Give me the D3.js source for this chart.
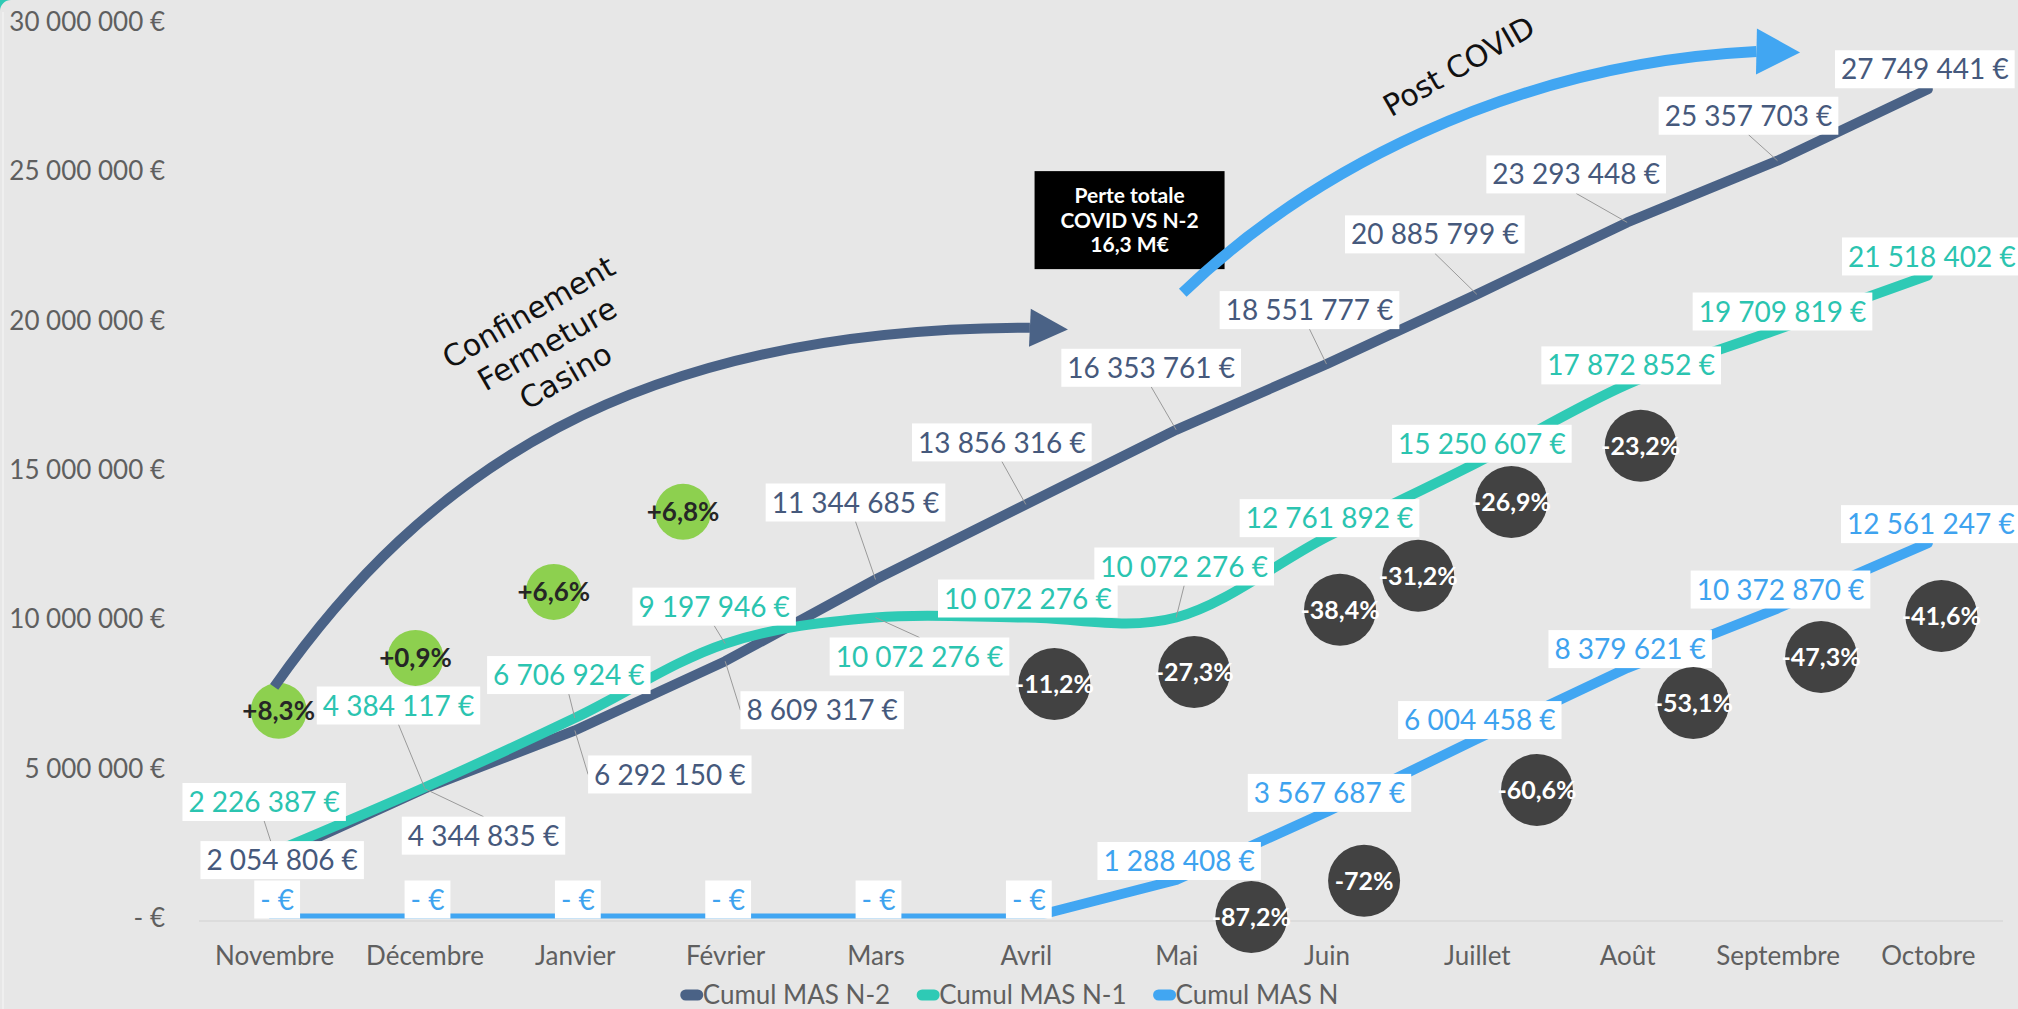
<!DOCTYPE html>
<html>
<head>
<meta charset="utf-8">
<script src="https://cdn.jsdelivr.net/npm/d3@7"></script>
<style>
html, body { margin: 0; padding: 0; background: #e7e7e7; overflow: hidden; }
svg { display: block; }
</style>
</head>
<body>
<div id="chart"></div>
<script>
// --- données ---
const months = ['Novembre', 'Décembre', 'Janvier', 'Février', 'Mars', 'Avril', 'Mai', 'Juin', 'Juillet', 'Août', 'Septembre', 'Octobre'];
const cumulN2 = [2054806, 4344835, 6292150, 8609317, 11344685, 13856316, 16353761, 18551777, 20885799, 23293448, 25357703, 27749441];
const cumulN1 = [2226387, 4384117, 6706924, 9197946, 10072276, 10072276, 10072276, 12761892, 15250607, 17872852, 19709819, 21518402];
const cumulN = [0, 0, 0, 0, 0, 0, 1288408, 3567687, 6004458, 8379621, 10372870, 12561247];
const yTicks = [0, 5000000, 10000000, 15000000, 20000000, 25000000, 30000000];
const seriesNames = ['Cumul MAS N-2', 'Cumul MAS N-1', 'Cumul MAS N'];

// bulles d'évolution (position : mois fractionnaire, valeur en €)
const gainText = ['+8,3%', '+0,9%', '+6,6%', '+6,8%'];
const gainMonth = [0.03, 0.94, 1.86, 2.72];
const gainValue = [6950000, 8720000, 10930000, 13610000];
const lossText = ['-11,2%', '-27,3%', '-87,2%', '-38,4%', '-72%', '-31,2%', '-26,9%', '-60,6%', '-23,2%', '-53,1%', '-47,3%', '-41,6%'];
const lossMonth = [5.19, 6.12, 6.50, 7.09, 7.25, 7.61, 8.23, 8.40, 9.09, 9.44, 10.29, 11.09];
const lossValue = [7850000, 8250000, 50000, 10330000, 1260000, 11470000, 13940000, 4300000, 15820000, 7210000, 8750000, 10120000];

// annotations : flèches en courbe de Bézier (mois fractionnaire, valeur en €)
const confinementText = ['Confinement', 'Fermeture', 'Casino'];
const confinementArrow = [[0.0, 7750000], [0.994, 14870000], [2.367, 19770000], [5.027, 19770000]];
const confinementTip = [5.28, 19710000];
const postCovidArrow = [[6.044, 20940000], [6.858, 24870000], [8.198, 28590000], [9.86, 29010000]];
const postCovidTip = [10.15, 28980000];
const perteText = ['Perte totale', 'COVID VS N-2', '16,3 M€'];

// décalage des étiquettes (px) par rapport au point
const shiftN2 = [[8, 3], [59, 47], [95, 44], [97, 49], [-20, -77], [-24, -62], [-25, -62], [-17, -54], [-42, -60], [-51, -48], [-29, -45], [-3, -20]];
const shiftN1 = [[-10, -50], [-26, -82], [-6, -43], [-11, -37], [44, 39], [2, -19], [8, -51], [3, -19], [5, -19], [4, -19], [5, -18], [4, -19]];

// --- mise en page ---
const width = 2018, height = 1009;
const colors = ['#4a6286', '#2ecab5', '#41a6f2'];
const textColors = ['#46597c', '#2bc4b0', '#3ea3ef'];
const font = 'Lato, "Open Sans", sans-serif';

const groupFmt = d3.formatLocale({decimal: ',', thousands: ' ', grouping: [3], currency: ['', ' €']}).format(',.0f');
const fmtEuro = v => v === 0 ? '- €' : groupFmt(v) + ' €';

const svg = d3.select('#chart')
    .append('svg')
    .attr('width', width)
    .attr('height', height);

svg.append('rect')
    .attr('width', width)
    .attr('height', height)
    .attr('fill', '#e7e7e7');

// coin et bord gauche
svg.append('path')
    .attr('d', 'M0,0 L11,0 A11,11 0 0 0 0,11 Z')
    .attr('fill', '#2ecab5');
svg.append('line')
    .attr('x1', 3).attr('x2', 3)
    .attr('y1', 12).attr('y2', height)
    .style('stroke', '#efefef')
    .style('stroke-width', 2);

const x = d3.scalePoint()
    .domain(months)
    .range([199, 2003])
    .padding(0.5);

const xi = d3.scaleLinear()
    .domain([0, months.length - 1])
    .range([x(months[0]), x(months[months.length - 1])]);

const y = d3.scaleLinear()
    .domain([0, 30000000])
    .range([918.5, 22]);

// axes
const yAxis = svg.append('g')
    .attr('transform', 'translate(199,0)')
    .call(d3.axisLeft(y).tickValues(yTicks).tickFormat(fmtEuro).tickSize(0).tickPadding(34));
yAxis.select('.domain').remove();
yAxis.selectAll('text')
    .attr('font-family', font)
    .attr('font-size', '26px')
    .attr('fill', '#5f5f5f');

const xAxis = svg.append('g')
    .attr('transform', 'translate(0,' + (y(0) + 2.5) + ')')
    .call(d3.axisBottom(x).tickSize(0).tickPadding(26));
xAxis.select('.domain')
    .attr('d', 'M199,0H2003')
    .style('stroke', '#d8d8d8')
    .style('stroke-width', 1.5);
xAxis.selectAll('text')
    .attr('font-family', font)
    .attr('font-size', '26px')
    .attr('fill', '#5f5f5f');

// courbes
svg.append('clipPath')
    .attr('id', 'plot')
    .append('rect')
    .attr('x', 199).attr('y', 22)
    .attr('width', 1804).attr('height', y(0) - 22);

const series = [cumulN2, cumulN1, cumulN];
const curves = [d3.curveLinear, d3.curveCardinal.tension(0), d3.curveLinear];

series.forEach((values, s) => {
    svg.append('path')
        .datum(values)
        .attr('clip-path', 'url(#plot)')
        .attr('fill', 'none')
        .attr('stroke', colors[s])
        .attr('stroke-width', 10)
        .attr('stroke-linecap', 'round')
        .attr('stroke-linejoin', 'round')
        .attr('d', d3.line()
            .x((d, i) => x(months[i]))
            .y(d => y(d))
            .curve(curves[s]));
});

// étiquettes de données avec traits de rappel
const leaders = svg.append('g');
const labels = svg.append('g');

function drawLabels(values, shifts, s){
    values.forEach((v, i) => {
        const px = x(months[i]),
            py = y(v),
            sh = shifts ? shifts[i] : [3, -19],
            cx = px + sh[0],
            cy = py + sh[1];

        const t = labels.append('text')
            .text(fmtEuro(v))
            .attr('x', cx)
            .attr('y', cy)
            .attr('dy', '0.36em')
            .attr('text-anchor', 'middle')
            .attr('font-family', font)
            .attr('font-size', '28px')
            .attr('fill', textColors[s]);

        const w = t.node().getComputedTextLength() + 12,
            h = 38,
            x0 = cx - w / 2, x1 = cx + w / 2,
            y0 = cy - h / 2, y1 = cy + h / 2;

        labels.insert('rect', () => t.node())
            .attr('x', x0).attr('y', y0)
            .attr('width', w).attr('height', h)
            .attr('fill', '#ffffff');

        if (px >= x0 && px <= x1 && py >= y0 && py <= y1) return;
        let ax, ay;
        if (px >= x0 && px <= x1){
            ax = cx;
            ay = py > cy ? y1 : y0;
        } else {
            ax = px < x0 ? x0 : x1;
            ay = cy;
        }
        if (Math.hypot(px - ax, py - ay) < 8) return;
        leaders.append('line')
            .attr('x1', ax).attr('y1', ay)
            .attr('x2', px).attr('y2', py)
            .style('stroke', '#9a9a9a')
            .style('stroke-width', 1);
    });
}

drawLabels(cumulN2, shiftN2, 0);
drawLabels(cumulN1, shiftN1, 1);
drawLabels(cumulN, null, 2);

// bulles
function drawBubbles(texts, pos, vals, r, fill, ink, size){
    const g = svg.append('g')
        .selectAll('g')
        .data(texts)
        .enter()
        .append('g')
        .attr('transform', (d, i) => 'translate(' + xi(pos[i]) + ',' + y(vals[i]) + ')');
    g.append('circle')
        .attr('r', r)
        .attr('fill', fill);
    g.append('text')
        .text(d => d)
        .attr('dy', '0.36em')
        .attr('text-anchor', 'middle')
        .attr('font-family', font)
        .attr('font-weight', 'bold')
        .attr('font-size', size)
        .attr('fill', ink);
}

drawBubbles(gainText, gainMonth, gainValue, 28, '#8dd04f', '#262626', '26px');
drawBubbles(lossText, lossMonth, lossValue, 36, '#424242', '#ffffff', '25px');

// annotations
const toPx = p => [xi(p[0]), y(p[1])];

function arrowHead(base, tip, half){
    const dx = tip[0] - base[0], dy = tip[1] - base[1],
        len = Math.hypot(dx, dy),
        nx = -dy / len * half, ny = dx / len * half;
    return 'M' + (base[0] + nx) + ',' + (base[1] + ny) +
        'L' + tip[0] + ',' + tip[1] +
        'L' + (base[0] - nx) + ',' + (base[1] - ny) + 'Z';
}

function drawArrow(ctrl, tip, color, stroke, half){
    const p = ctrl.map(toPx),
        path = d3.path();
    path.moveTo(p[0][0], p[0][1]);
    path.bezierCurveTo(p[1][0], p[1][1], p[2][0], p[2][1], p[3][0], p[3][1]);
    svg.append('path')
        .attr('d', path.toString())
        .attr('fill', 'none')
        .attr('stroke', color)
        .attr('stroke-width', stroke);
    svg.append('path')
        .attr('d', arrowHead(p[3], toPx(tip), half))
        .attr('fill', color);
}

drawArrow(confinementArrow, confinementTip, '#4a6286', 10, 19);

// encadré noir
const box = toPx([5.69, 23370000]);
svg.append('rect')
    .attr('x', box[0] - 95).attr('y', box[1] - 49)
    .attr('width', 190).attr('height', 98)
    .attr('fill', '#000000');
svg.append('g')
    .selectAll('text')
    .data(perteText)
    .enter()
    .append('text')
    .text(d => d)
    .attr('x', box[0])
    .attr('y', (d, i) => box[1] + (i - 1) * 24.5)
    .attr('dy', '0.36em')
    .attr('text-anchor', 'middle')
    .attr('font-family', font)
    .attr('font-weight', 'bold')
    .attr('font-size', '21px')
    .attr('fill', '#ffffff');

drawArrow(postCovidArrow, postCovidTip, '#41a6f2', 11, 23);

// textes inclinés
const conf = toPx([1.815, 19220000]);
svg.append('g')
    .attr('transform', 'translate(' + conf[0] + ',' + conf[1] + ') rotate(-30)')
    .selectAll('text')
    .data(confinementText)
    .enter()
    .append('text')
    .text(d => d)
    .attr('y', (d, i) => (i - 1) * 37)
    .attr('dy', '0.35em')
    .attr('text-anchor', 'middle')
    .attr('font-family', '"DejaVu Sans", Verdana, sans-serif')
    .attr('font-size', '30px')
    .attr('fill', '#111111');

const post = toPx([7.88, 28520000]);
svg.append('text')
    .text('Post COVID')
    .attr('transform', 'translate(' + post[0] + ',' + post[1] + ') rotate(-30)')
    .attr('dy', '0.35em')
    .attr('text-anchor', 'middle')
    .attr('font-family', '"DejaVu Sans", Verdana, sans-serif')
    .attr('font-size', '30px')
    .attr('fill', '#111111');

// légende
const legend = svg.append('g');
let lx = 0;
seriesNames.forEach((name, s) => {
    const item = legend.append('g').attr('transform', 'translate(' + lx + ',0)');
    item.append('line')
        .attr('x1', 6).attr('x2', 18)
        .attr('y1', 0).attr('y2', 0)
        .style('stroke', colors[s])
        .style('stroke-width', 11)
        .style('stroke-linecap', 'round');
    const t = item.append('text')
        .text(name)
        .attr('x', 23)
        .attr('dy', '0.36em')
        .attr('font-family', font)
        .attr('font-size', '26px')
        .attr('fill', '#5f5f5f');
    lx += 23 + t.node().getComputedTextLength() + 26;
});
legend.attr('transform', 'translate(' + (width / 2 - (lx - 26) / 2) + ',995)');
</script>
</body>
</html>
